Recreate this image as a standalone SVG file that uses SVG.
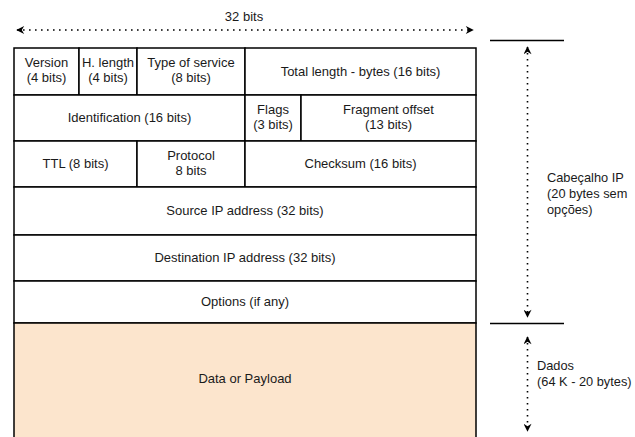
<svg xmlns="http://www.w3.org/2000/svg" width="635" height="437" viewBox="0 0 635 437">
<style>
.cell{fill:#fff;stroke:#000;stroke-width:1.5}
.data{fill:#fce5cd;stroke:#000;stroke-width:1.5}
.t{font-family:"Liberation Sans",Arial,sans-serif;font-size:13px;fill:#1a1a1a;text-anchor:middle}
.l{font-family:"Liberation Sans",Arial,sans-serif;font-size:12.8px;fill:#1a1a1a}
.dot{fill:none;stroke:#000;stroke-width:1.6;stroke-dasharray:1.6 4.4;stroke-linecap:butt}
.bar{stroke:#000;stroke-width:1.5}
</style>
<defs>
<marker id="ah" viewBox="0 0 10 10" refX="9" refY="5" markerWidth="9" markerHeight="8" markerUnits="userSpaceOnUse" orient="auto-start-reverse">
<path d="M0,0 L10,5 L0,10 L3,5 Z" fill="#000"/>
</marker>
</defs>
<rect width="635" height="437" fill="#fff"/>

<g id="version"><rect class="cell" x="14" y="48" width="65" height="47"/><text class="t" x="46.5" y="67">Version</text><text class="t" x="46.5" y="82">(4 bits)</text></g>
<g id="hlength"><rect class="cell" x="79" y="48" width="58" height="47"/><text class="t" x="108" y="67">H. length</text><text class="t" x="108" y="82">(4 bits)</text></g>
<g id="tos"><rect class="cell" x="137" y="48" width="108" height="47"/><text class="t" x="191" y="67">Type of service</text><text class="t" x="191" y="82">(8 bits)</text></g>
<g id="totallength"><rect class="cell" x="245" y="48" width="231" height="47"/><text class="t" x="360.5" y="76">Total length - bytes (16 bits)</text></g>

<g id="identification"><rect class="cell" x="14" y="95" width="231" height="46"/><text class="t" x="129.5" y="122">Identification (16 bits)</text></g>
<g id="flags"><rect class="cell" x="245" y="95" width="56" height="46"/><text class="t" x="273" y="114">Flags</text><text class="t" x="273" y="129">(3 bits)</text></g>
<g id="fragoffset"><rect class="cell" x="301" y="95" width="175" height="46"/><text class="t" x="388.5" y="114">Fragment offset</text><text class="t" x="388.5" y="129">(13 bits)</text></g>

<g id="ttl"><rect class="cell" x="14" y="141" width="123" height="46"/><text class="t" x="75.5" y="168">TTL (8 bits)</text></g>
<g id="protocol"><rect class="cell" x="137" y="141" width="108" height="46"/><text class="t" x="191" y="160">Protocol</text><text class="t" x="191" y="175">8 bits</text></g>
<g id="checksum"><rect class="cell" x="245" y="141" width="231" height="46"/><text class="t" x="360.5" y="168">Checksum (16 bits)</text></g>

<g id="srcip"><rect class="cell" x="14" y="187" width="462" height="48"/><text class="t" x="245" y="215">Source IP address (32 bits)</text></g>
<g id="dstip"><rect class="cell" x="14" y="235" width="462" height="46"/><text class="t" x="245" y="262">Destination IP address (32 bits)</text></g>
<g id="options"><rect class="cell" x="14" y="281" width="462" height="42"/><text class="t" x="245" y="306">Options (if any)</text></g>
<g id="data"><rect class="data" x="14" y="323" width="462" height="130"/><text class="t" x="245" y="383">Data or Payload</text></g>

<g id="label32"><text class="t" x="244" y="21">32 bits</text></g>
<g id="labelheader"><text class="l" x="547" y="182">Cabeçalho IP</text><text class="l" x="547" y="198">(20 bytes sem</text><text class="l" x="547" y="214">opções)</text></g>
<g id="labeldata"><text class="l" x="537" y="370">Dados</text><text class="l" x="537" y="386">(64 K - 20 bytes)</text></g>

<g id="connectors">
<line class="dot" x1="17" y1="30" x2="473" y2="30" marker-start="url(#ah)" marker-end="url(#ah)"/>
<line class="bar" x1="490" y1="40.5" x2="564" y2="40.5"/>
<line class="bar" x1="490" y1="323.5" x2="564" y2="323.5"/>
<line class="dot" x1="527.5" y1="47" x2="527.5" y2="317" marker-start="url(#ah)" marker-end="url(#ah)"/>
<line class="dot" x1="527.5" y1="337" x2="527.5" y2="431" marker-start="url(#ah)" marker-end="url(#ah)"/>
</g>
</svg>
